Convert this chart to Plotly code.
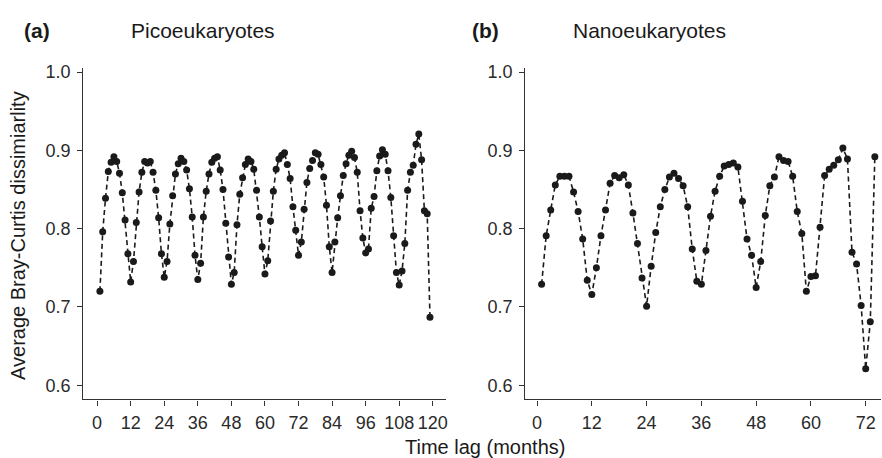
import plotly.graph_objects as go

# ---- data ----
pico_lag = list(range(1, 120))
pico_bc = [
    0.720, 0.796, 0.839, 0.873, 0.885, 0.892, 0.886, 0.871, 0.846, 0.811,
    0.768, 0.732, 0.758, 0.808, 0.847, 0.872, 0.886, 0.884, 0.886, 0.872,
    0.849, 0.814, 0.768, 0.738, 0.758, 0.806, 0.842, 0.870, 0.883, 0.890,
    0.886, 0.875, 0.851, 0.815, 0.766, 0.735, 0.756, 0.815, 0.848, 0.870,
    0.885, 0.890, 0.892, 0.875, 0.850, 0.807, 0.764, 0.729, 0.744, 0.805,
    0.844, 0.865, 0.882, 0.889, 0.886, 0.876, 0.849, 0.815, 0.777, 0.742,
    0.759, 0.810, 0.848, 0.876, 0.889, 0.894, 0.897, 0.882, 0.864, 0.828,
    0.798, 0.766, 0.783, 0.825, 0.859, 0.877, 0.887, 0.897, 0.895, 0.882,
    0.866, 0.830, 0.777, 0.744, 0.783, 0.814, 0.842, 0.868, 0.883, 0.894,
    0.899, 0.891, 0.872, 0.823, 0.788, 0.769, 0.774, 0.826, 0.841, 0.874,
    0.893, 0.901, 0.895, 0.874, 0.840, 0.791, 0.744, 0.728, 0.746, 0.781,
    0.849, 0.872, 0.881, 0.908, 0.921, 0.888, 0.823, 0.819, 0.687,
]

nano_lag = list(range(1, 75))
nano_bc = [
    0.729, 0.791, 0.824, 0.856, 0.867, 0.867, 0.867, 0.847, 0.822, 0.787,
    0.734, 0.716, 0.750, 0.791, 0.824, 0.858, 0.868, 0.865, 0.869, 0.856,
    0.820, 0.781, 0.737, 0.701, 0.752, 0.795, 0.828, 0.850, 0.866, 0.871,
    0.864, 0.855, 0.828, 0.774, 0.733, 0.729, 0.772, 0.816, 0.848, 0.867,
    0.880, 0.882, 0.884, 0.879, 0.835, 0.787, 0.766, 0.725, 0.758, 0.817,
    0.855, 0.866, 0.892, 0.887, 0.886, 0.867, 0.822, 0.794, 0.720, 0.739,
    0.740, 0.802, 0.868, 0.876, 0.881, 0.888, 0.903, 0.889, 0.770, 0.755,
    0.702, 0.621, 0.681, 0.892,
]

pico_xticks = list(range(0, 121, 12))
nano_xticks = list(range(0, 73, 12))
y_ticks = [0.6, 0.7, 0.8, 0.9, 1.0]

# ---- figure ----
W, H = 882, 458
FONT = "Liberation Sans, Arial, Helvetica, sans-serif"
INK = "#1a1a1a"
AXC = "#333333"

def px_x(p):
    return p / W

def px_y(p):
    return (H - p) / H

line_style = dict(color=INK, width=1.6, dash="5px,3.5px")
marker_style = dict(color=INK, size=7)

fig = go.Figure()
fig.add_trace(go.Scatter(x=pico_lag, y=pico_bc, mode="lines+markers",
                         line=line_style, marker=marker_style,
                         xaxis="x", yaxis="y", showlegend=False))
fig.add_trace(go.Scatter(x=nano_lag, y=nano_bc, mode="lines+markers",
                         line=line_style, marker=marker_style,
                         xaxis="x2", yaxis="y2", showlegend=False))

y_dom = [px_y(398.7), px_y(63.1)]
common_axis = dict(showline=True, linecolor=AXC, linewidth=1.3,
                   ticks="outside", ticklen=5, tickwidth=1.2, tickcolor=AXC,
                   showgrid=False, zeroline=False,
                   tickfont=dict(family=FONT, size=18, color="#2a2a2a"))

fig.update_layout(
    width=W, height=H,
    margin=dict(l=0, r=0, t=0, b=0),
    paper_bgcolor="white", plot_bgcolor="white",
    xaxis=dict(domain=[px_x(83.5), px_x(447)], range=[-4.9, 124.9],
               tickvals=pico_xticks, anchor="y", ticklabelstandoff=2, **common_axis),
    yaxis=dict(domain=y_dom, range=[0.5818, 1.005], tickvals=y_ticks,
               tickformat=".1f", anchor="x", ticklabelstandoff=3, **common_axis),
    xaxis2=dict(domain=[px_x(526), 1.0], range=[-2.55, 75.35],
                tickvals=nano_xticks, anchor="y2", ticklabelstandoff=2, **common_axis),
    yaxis2=dict(domain=y_dom, range=[0.5818, 1.005], tickvals=y_ticks,
                tickformat=".1f", anchor="x2", ticklabelstandoff=3, **common_axis),
)

ann_font = dict(family=FONT, size=21, color=INK)
annotations = [
    dict(text="<b>(a)</b>", x=px_x(22), y=px_y(25), xanchor="left", yanchor="middle"),
    dict(text="Picoeukaryotes", x=px_x(129), y=px_y(25), xanchor="left", yanchor="middle"),
    dict(text="<b>(b)</b>", x=px_x(471), y=px_y(25), xanchor="left", yanchor="middle"),
    dict(text="Nanoeukaryotes", x=px_x(572), y=px_y(25), xanchor="left", yanchor="middle"),
    dict(text="Time lag (months)", x=px_x(486), y=px_y(447), xanchor="center", yanchor="middle",
         font=dict(family=FONT, size=20, color=INK)),
    dict(text="Average Bray-Curtis dissimiarlity", x=px_x(18), y=px_y(232),
         xanchor="center", yanchor="middle", textangle=-90,
         font=dict(family=FONT, size=20, color=INK)),
]
for a in annotations:
    a.setdefault("font", ann_font)
    a.update(xref="paper", yref="paper", showarrow=False)
fig.update_layout(annotations=annotations)

fig.write_html("out.html")
